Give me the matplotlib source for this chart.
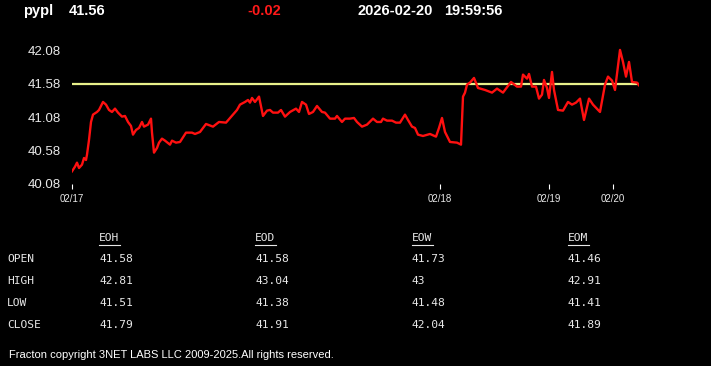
import matplotlib
matplotlib.use("Agg")
import matplotlib.pyplot as plt
from matplotlib.lines import Line2D

W, H = 711, 366

# price trace (t = intraday sample position, price)
t = [0, 3, 5, 7, 10, 12, 14, 15, 17, 19, 21, 25, 27, 31, 34, 37, 40, 43, 46, 50,
     53, 56, 59, 61, 64, 67, 70, 72, 76, 79, 80, 82, 85, 87, 90, 93, 98, 100, 104, 108,
     114, 120, 123, 128, 134, 141, 147, 154, 158, 165, 168, 173, 176, 178, 180, 183, 187, 191, 195, 198,
     201, 206, 209, 213, 218, 224, 227, 230, 234, 237, 241, 245, 250, 253, 258, 263, 265, 270, 273, 278,
     282, 285, 290, 295, 301, 305, 309, 311, 315, 320, 324, 328, 333, 336, 340, 343, 346, 351, 358, 364,
     367, 370, 373, 378, 385, 389, 391, 393, 395, 398, 402, 406, 413, 420, 425, 431, 439, 445, 449, 451,
     455, 457, 460, 464, 467, 470, 472, 475, 477, 480, 482, 486, 491, 496, 500, 504, 508, 512, 517, 521,
     528, 533, 536, 540, 543, 548, 551, 554, 557, 560, 565, 567]
price = [40.27, 40.34, 40.40, 40.32, 40.37, 40.47, 40.44, 40.52, 40.74, 41.01, 41.12, 41.16, 41.19, 41.31, 41.27, 41.19, 41.16, 41.21, 41.15, 41.09,
         41.10, 41.01, 40.95, 40.82, 40.89, 40.92, 41.01, 40.94, 40.97, 41.06, 40.85, 40.55, 40.62, 40.70, 40.76, 40.73, 40.67, 40.73, 40.70, 40.71,
         40.85, 40.85, 40.83, 40.86, 40.98, 40.94, 41.01, 41.00, 41.07, 41.19, 41.27, 41.31, 41.34, 41.30, 41.37, 41.31, 41.39, 41.10, 41.18, 41.19,
         41.15, 41.15, 41.19, 41.09, 41.16, 41.21, 41.16, 41.31, 41.27, 41.13, 41.16, 41.25, 41.16, 41.15, 41.06, 41.06, 41.10, 41.01, 41.06, 41.06,
         41.07, 41.01, 40.94, 40.97, 41.06, 41.01, 41.01, 41.06, 41.03, 41.03, 41.00, 41.00, 41.12, 41.04, 40.94, 40.92, 40.82, 40.80, 40.83, 40.79,
         40.92, 41.07, 40.86, 40.71, 40.70, 40.67, 41.39, 41.45, 41.57, 41.60, 41.67, 41.52, 41.49, 41.45, 41.51, 41.45, 41.61, 41.54, 41.54, 41.72,
         41.66, 41.73, 41.54, 41.54, 41.36, 41.42, 41.64, 41.52, 41.37, 41.76, 41.49, 41.19, 41.18, 41.31, 41.27, 41.30, 41.36, 41.04, 41.36, 41.27,
         41.16, 41.57, 41.69, 41.63, 41.49, 42.09, 41.91, 41.69, 41.91, 41.61, 41.60, 41.56]
prev_close = 41.58

y_ticks = [40.08, 40.58, 41.08, 41.58, 42.08]
x_tick_pos = [0, 368, 477, 541]
x_tick_labels = ["02/17", "02/18", "02/19", "02/20"]

symbol = "pypl"
last = "41.56"
change = "-0.02"
date_str = "2026-02-20"
time_str = "19:59:56"

col_names = ["EOH", "EOD", "EOW", "EOM"]
row_names = ["OPEN", "HIGH", "LOW", "CLOSE"]
opens = ["41.58", "41.58", "41.73", "41.46"]
highs = ["42.81", "43.04", "43", "42.91"]
lows = ["41.51", "41.38", "41.48", "41.41"]
closes = ["41.79", "41.91", "42.04", "41.89"]

footer = "Fracton copyright 3NET LABS LLC 2009-2025.All rights reserved."

txt = "#e8e8e8"


def fx(px):
    return px / W


def fy(py):
    return 1 - py / H


fig = plt.figure(figsize=(W / 100, H / 100), dpi=100, facecolor="black")

# chart area: x 72..639 px, 40.08 at y=184 px, 66.7 px per dollar
top_px = 184 - (42.2 - 40.08) * 66.7
ax = fig.add_axes([fx(72), fy(184), fx(639) - fx(72), (184 - top_px) / H])
ax.set_facecolor("black")
ax.plot(t, price, color="#ff1010", lw=1.7, solid_joinstyle="round")
ax.axhline(prev_close, color="#e8f08a", lw=1.6, zorder=1)
ax.set_xlim(0, 567)
ax.set_ylim(40.08, 42.2)
for s in ax.spines.values():
    s.set_visible(False)
ax.set_yticks(y_ticks)
ax.set_yticklabels([f"{v:.2f}" for v in y_ticks])
ax.tick_params(axis="y", length=0, pad=8, labelsize=9.5, labelcolor=txt)
ax.set_xticks(x_tick_pos)
ax.set_xticklabels(x_tick_labels)
ax.tick_params(axis="x", length=3.5, width=0.8, color="white", pad=3.5,
               labelsize=7, labelcolor=txt)
for lab in ax.get_xticklabels() + ax.get_yticklabels():
    lab.set_family("Liberation Sans")

# header
hfont = dict(family="Liberation Sans", weight="bold", size=10.5, va="baseline")
fig.text(fx(23), fy(15), symbol, color="white", **hfont)
fig.text(fx(69), fy(15), last, color="white", **hfont)
fig.text(fx(247), fy(15), change, color="#ff1a1a", **hfont)
fig.text(fx(358), fy(15), date_str, color="white", **hfont)
fig.text(fx(444), fy(15), time_str, color="white", **hfont)

# summary table
mono = dict(family="DejaVu Sans Mono", size=8.1, color=txt, va="center")
col_x = [99, 255, 412, 568]
row_y = [259, 281, 303, 325]
for cx, name in zip(col_x, col_names):
    fig.text(fx(cx), fy(238), name, **mono)
    fig.add_artist(Line2D([fx(cx), fx(cx + 21)], [fy(245), fy(245)],
                          color=txt, lw=0.8, transform=fig.transFigure))
for ry, name, vals in zip(row_y, row_names, [opens, highs, lows, closes]):
    fig.text(fx(7), fy(ry), name, **mono)
    for cx, v in zip(col_x, vals):
        fig.text(fx(cx), fy(ry), v, **mono)

fig.text(fx(9), fy(355), footer, family="Liberation Sans", size=8,
         color="white", va="center")

fig.savefig("out.png", dpi=100, facecolor="black")
